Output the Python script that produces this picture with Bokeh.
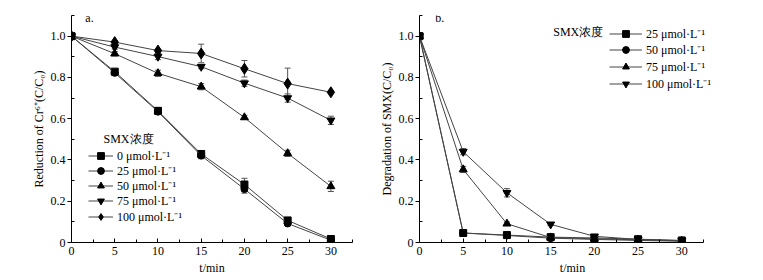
from bokeh.plotting import figure
from bokeh.models import (Range1d, FixedTicker, ColumnDataSource, Whisker, TeeHead,
                          Legend, LegendItem, Label)
from bokeh.layouts import row
from bokeh.embed import file_html
from bokeh.resources import INLINE

# ---------------- data ----------------
time_min = [0, 5, 10, 15, 20, 25, 30]
x_ticks = [0, 5, 10, 15, 20, 25, 30]
x_minor = [2.5, 7.5, 12.5, 17.5, 22.5, 27.5, 32.5]
y_ticks = [0, 0.2, 0.4, 0.6, 0.8, 1.0]
y_tick_labels = ["0", "0.2", "0.4", "0.6", "0.8", "1.0"]
y_minor = [0.1, 0.3, 0.5, 0.7, 0.9, 1.1]

# panel a: reduction of Cr(VI)
a_names = ["0 μmol·L⁻¹", "25 μmol·L⁻¹", "50 μmol·L⁻¹", "75 μmol·L⁻¹", "100 μmol·L⁻¹"]
a_smx0 = [1.0, 0.828, 0.638, 0.429, 0.281, 0.107, 0.017]
a_smx25 = [1.0, 0.822, 0.634, 0.421, 0.259, 0.092, 0.011]
a_smx50 = [1.0, 0.915, 0.820, 0.755, 0.606, 0.432, 0.272]
a_smx75 = [1.0, 0.947, 0.901, 0.852, 0.772, 0.700, 0.592]
a_smx100 = [1.0, 0.971, 0.930, 0.916, 0.842, 0.770, 0.728]
a_err0 = [0, 0.010, 0.015, 0.010, 0.030, 0.010, 0.010]
a_err25 = [0, 0.010, 0.010, 0.015, 0.020, 0.010, 0.005]
a_err50 = [0, 0.010, 0.015, 0.015, 0.010, 0.015, 0.025]
a_err75 = [0, 0.010, 0.015, 0.010, 0.015, 0.020, 0.020]
a_err100 = [0, 0.005, 0.005, 0.045, 0.040, 0.075, 0.005]

# panel b: degradation of SMX
b_names = ["25 μmol·L⁻¹", "50 μmol·L⁻¹", "75 μmol·L⁻¹", "100 μmol·L⁻¹"]
b_smx25 = [1.0, 0.046, 0.036, 0.026, 0.022, 0.016, 0.010]
b_smx50 = [1.0, 0.046, 0.034, 0.021, 0.015, 0.010, 0.006]
b_smx75 = [1.0, 0.354, 0.091, 0.024, 0.018, 0.013, 0.008]
b_smx100 = [1.0, 0.440, 0.241, 0.088, 0.030, 0.015, 0.009]
b_err25 = [0, 0.005, 0.005, 0.005, 0.005, 0.005, 0.004]
b_err50 = [0, 0.005, 0.005, 0.005, 0.005, 0.004, 0.004]
b_err75 = [0, 0.015, 0.008, 0.005, 0.005, 0.004, 0.004]
b_err100 = [0, 0.015, 0.020, 0.006, 0.005, 0.004, 0.004]

legend_title = "SMX浓度"

SERIF = "Liberation Serif"
FS = "12px"


def make_fig(width, bl, br, ylabel, xmax):
    p = figure(width=width, height=280, output_backend="svg", toolbar_location=None,
               x_range=Range1d(0, xmax), y_range=Range1d(0, 1.1),
               min_border_left=bl, min_border_right=br, min_border_top=15,
               min_border_bottom=38)
    p.outline_line_color = None
    p.grid.visible = False
    p.background_fill_color = "white"
    for ax in (p.xaxis[0], p.yaxis[0]):
        ax.axis_line_color = "black"
        ax.axis_line_width = 1
        ax.major_tick_line_color = "black"
        ax.minor_tick_line_color = "black"
        ax.major_label_text_font = SERIF
        ax.major_label_text_font_size = FS
        ax.major_label_text_color = "black"
        ax.axis_label_text_font = SERIF
        ax.axis_label_text_font_size = FS
        ax.axis_label_text_font_style = "normal"
        ax.axis_label_text_color = "black"
    xa = p.xaxis[0]
    xa.ticker = FixedTicker(ticks=x_ticks, minor_ticks=x_minor)
    xa.bounds = (0, 32.5)
    xa.major_tick_in = 4
    xa.major_tick_out = 0
    xa.minor_tick_in = 3
    xa.minor_tick_out = 0
    xa.major_label_standoff = 4
    xa.axis_label = "t/min"
    xa.axis_label_standoff = 3
    ya = p.yaxis[0]
    ya.ticker = FixedTicker(ticks=y_ticks, minor_ticks=y_minor)
    ya.major_label_overrides = {t: l for t, l in zip(y_ticks, y_tick_labels)}
    ya.major_tick_in = 0
    ya.major_tick_out = 4
    ya.minor_tick_in = 3
    ya.minor_tick_out = 0
    ya.major_label_standoff = 2
    ya.axis_label = ylabel
    ya.axis_label_standoff = 2
    return p


def add_series(p, ys, errs, marker, size):
    src = ColumnDataSource(dict(x=time_min, y=ys))
    ln = p.line("x", "y", source=src, line_color="#444444", line_width=1)
    ex = [t for t, e in zip(time_min, errs) if e > 0]
    up = [y + e for y, e in zip(ys, errs) if e > 0]
    lo = [y - e for y, e in zip(ys, errs) if e > 0]
    esrc = ColumnDataSource(dict(x=ex, upper=up, lower=lo))
    w = Whisker(base="x", upper="upper", lower="lower", source=esrc,
                line_color="#555555", line_width=1,
                upper_head=TeeHead(size=6, line_color="#555555", line_width=1),
                lower_head=TeeHead(size=6, line_color="#555555", line_width=1))
    p.add_layout(w)
    sc = p.scatter("x", "y", source=src, marker=marker, size=size,
                   fill_color="black", line_color="black")
    return [ln, sc]


def add_legend_row(p, name, renderers, loc, gw):
    lg = Legend(items=[LegendItem(label=name, renderers=renderers)], location=loc)
    lg.label_text_font = SERIF
    lg.label_text_font_size = FS
    lg.label_text_color = "black"
    lg.glyph_width = gw
    lg.glyph_height = 17
    lg.label_height = 17
    lg.label_standoff = 4
    lg.spacing = 0
    lg.padding = 0
    lg.margin = 0
    lg.border_line_color = None
    lg.background_fill_alpha = 0
    p.add_layout(lg, "center")


# ---------------- panel a ----------------
pa = make_fig(376, 71, 24, "Reduction of Cr⁶⁺(C/C₀)", 32.5)
a_series = [(a_smx0, a_err0, "square", 7), (a_smx25, a_err25, "circle", 7),
            (a_smx50, a_err50, "triangle", 8), (a_smx75, a_err75, "inverted_triangle", 8),
            (a_smx100, a_err100, "diamond", 11)]
a_rows = [78.5, 63.2, 47.9, 32.6, 17.3]
for name, (ys, es, mk, sz), yb in zip(a_names, a_series, a_rows):
    rs = add_series(pa, ys, es, mk, sz)
    add_legend_row(pa, name, rs, (17, yb), 25)
pa.add_layout(Label(x=3.7, y=0.5, text=legend_title, text_font=SERIF, text_font_size=FS,
                    text_baseline="middle", text_color="black"))
pa.add_layout(Label(x=1.6, y=1.09, text="a.", text_font=SERIF, text_font_size=FS,
                    text_baseline="middle", text_color="black"))

# ---------------- panel b ----------------
pb = make_fig(387, 43, 38, "Degradation of SMX(C/C₀)", 35)
b_series = [(b_smx25, b_err25, "square", 7), (b_smx50, b_err50, "circle", 7),
            (b_smx75, b_err75, "triangle", 8), (b_smx100, b_err100, "inverted_triangle", 8)]
b_rows = [200.5, 183.8, 167.1, 150.5]
for name, (ys, es, mk, sz), yb in zip(b_names, b_series, b_rows):
    rs = add_series(pb, ys, es, mk, sz)
    add_legend_row(pb, name, rs, (190, yb), 33)
pb.add_layout(Label(x=15.3, y=1.02, text=legend_title, text_font=SERIF, text_font_size=FS,
                    text_baseline="middle", text_color="black"))
pb.add_layout(Label(x=1.8, y=1.09, text="b.", text_font=SERIF, text_font_size=FS,
                    text_baseline="middle", text_color="black"))

layout = row(pa, pb)
open("out.html", "w").write(file_html(layout, INLINE))
